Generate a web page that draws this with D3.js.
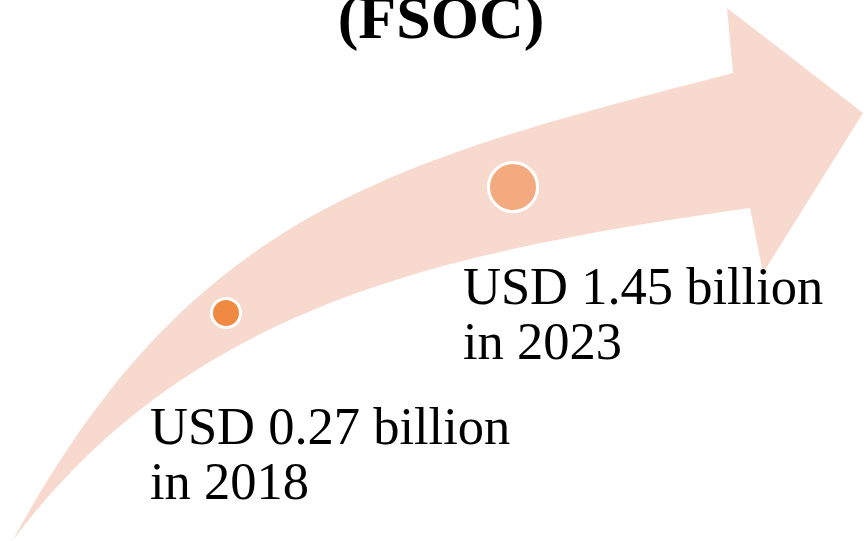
<!DOCTYPE html>
<html>
<head>
<meta charset="utf-8">
<script src="https://cdn.jsdelivr.net/npm/d3@7"></script>
<style>
  html, body { margin: 0; padding: 0; background: #ffffff; }
  svg { display: block; }
  .serif { font-family: "Liberation Serif", Tinos, "Times New Roman", Times, "DejaVu Serif", serif; }
</style>
</head>
<body>
<svg id="chart" width="864" height="541"></svg>
<script>
// Market size milestones
const years = [2018, 2023];
const values = [0.27, 1.45];          // USD billion
const valueLabels = ["USD 0.27 billion", "USD 1.45 billion"];
const yearLabels = ["in 2018", "in 2023"];
const titleText = "(FSOC)";

const svg = d3.select("#chart");

// Scales placing each milestone along the growth arrow
const x = d3.scaleLinear().domain([2018, 2023]).range([226, 513]);
const y = d3.scaleLinear().domain([0.27, 1.45]).range([313, 187]);
const r = d3.scaleLinear().domain([0.27, 1.45]).range([14.5, 24.5]);
const fill = d3.scaleOrdinal().domain(years).range(["#f08a43", "#f2aa7e"]);

// Curved growth arrow
const arrow = d3.path();
arrow.moveTo(13, 540);
arrow.bezierCurveTo(193, 300, 453, 251, 750, 208);
arrow.lineTo(763, 273);
arrow.lineTo(863, 113);
arrow.lineTo(727, 8);
arrow.lineTo(733, 73);
arrow.bezierCurveTo(383, 163, 190, 215, 13, 540);
arrow.closePath();

svg.append("path")
  .attr("d", arrow.toString())
  .attr("fill", "#f7d9ce");

// Title
svg.append("text")
  .attr("class", "serif")
  .attr("x", 441)
  .attr("y", 38)
  .attr("text-anchor", "middle")
  .attr("font-weight", "bold")
  .attr("font-size", 62)
  .attr("fill", "#000")
  .text(titleText);

// Milestone markers
const data = years.map((yr, i) => ({ year: yr, value: values[i], label: valueLabels[i], yl: yearLabels[i] }));

svg.selectAll("circle.milestone")
  .data(data)
  .join("circle")
  .attr("class", "milestone")
  .attr("cx", d => x(d.year))
  .attr("cy", d => y(d.value))
  .attr("r", d => r(d.value))
  .attr("fill", d => fill(d.year))
  .attr("stroke", "#ffffff")
  .attr("stroke-width", 3);

// Milestone captions
const labelPos = [{ x: 150, y: 444 }, { x: 463, y: 304 }];
const lineGap = 55;
const labels = svg.selectAll("text.caption")
  .data(data)
  .join("text")
  .attr("class", "caption serif")
  .attr("font-size", 52.5)
  .attr("fill", "#000");

labels.append("tspan")
  .attr("x", (d, i) => labelPos[i].x)
  .attr("y", (d, i) => labelPos[i].y)
  .text(d => d.label);
labels.append("tspan")
  .attr("x", (d, i) => labelPos[i].x)
  .attr("y", (d, i) => labelPos[i].y + lineGap)
  .text(d => d.yl);
</script>
</body>
</html>
